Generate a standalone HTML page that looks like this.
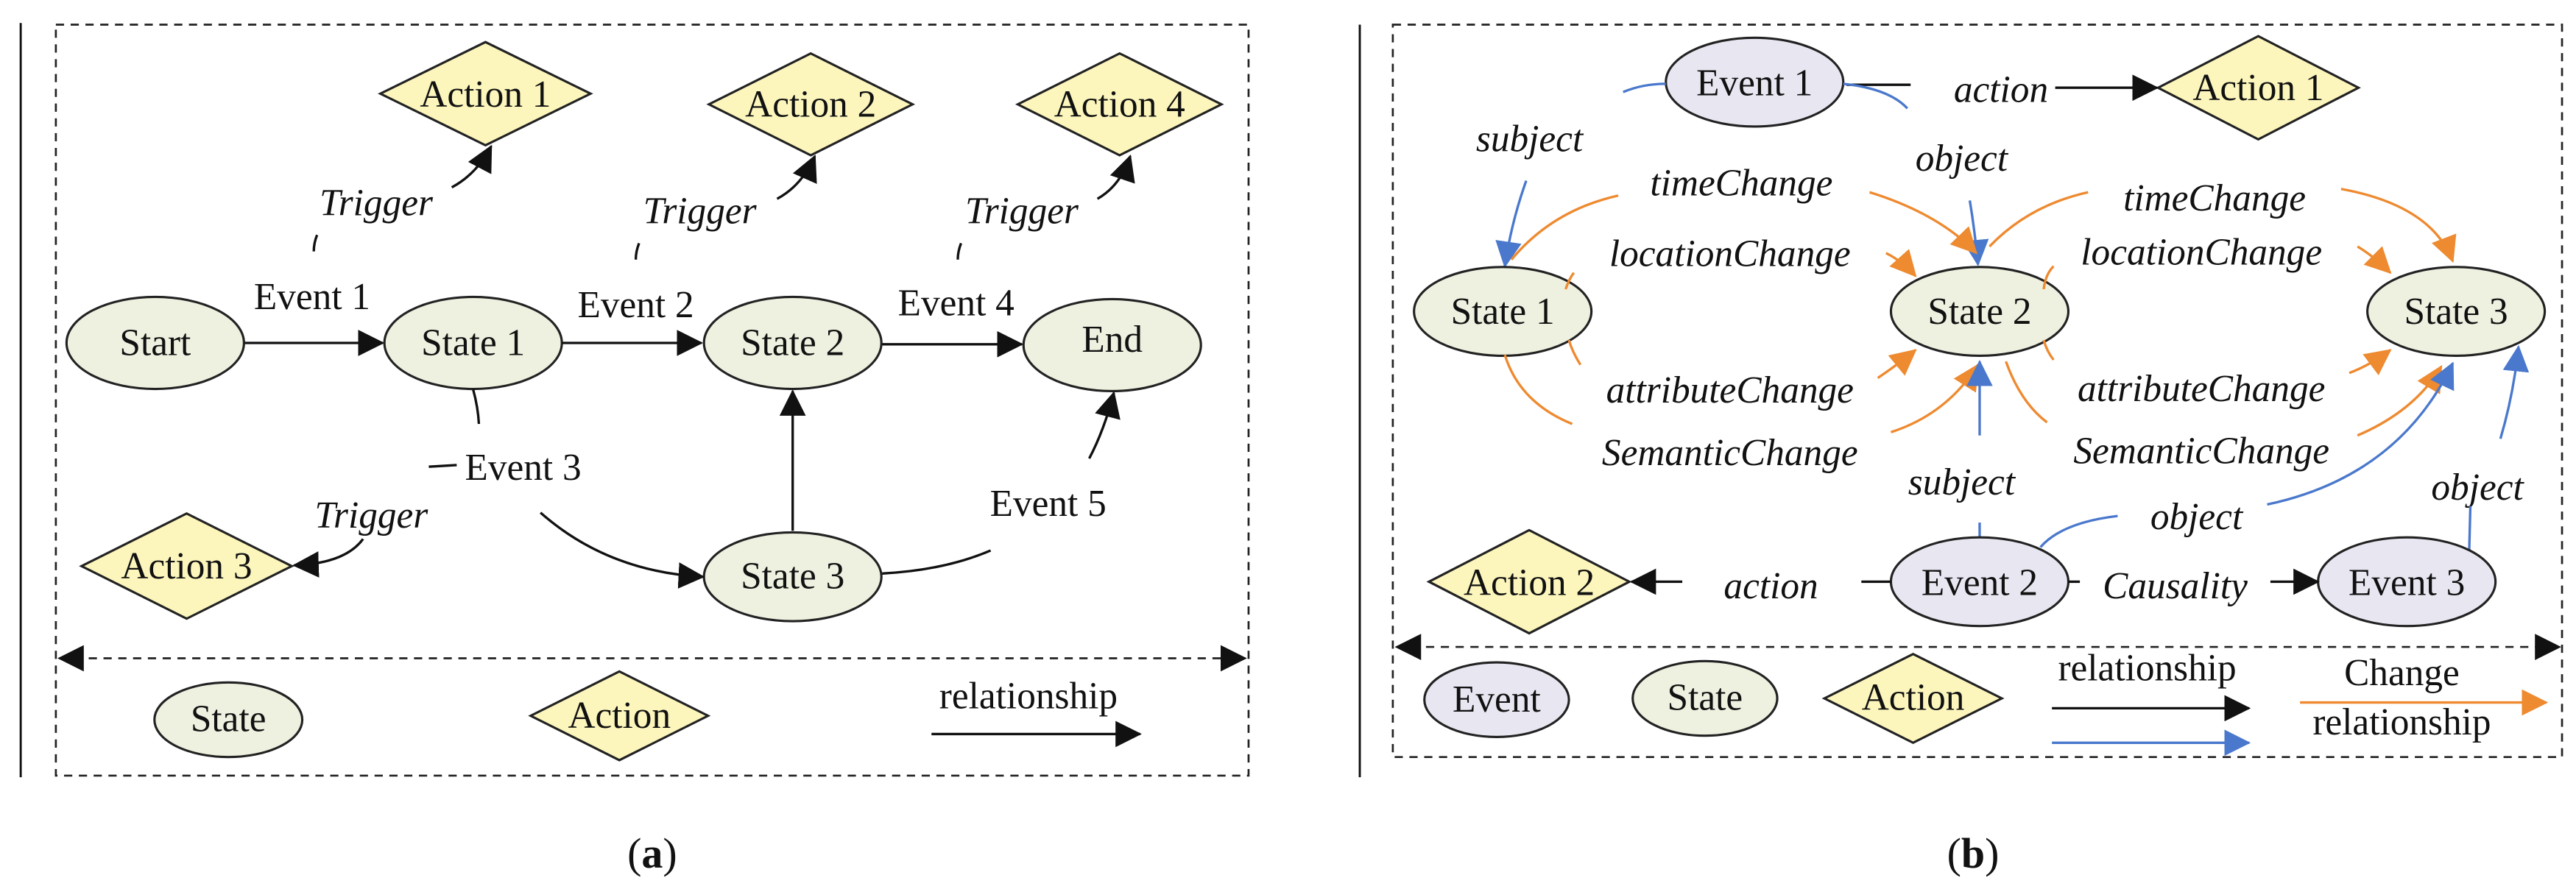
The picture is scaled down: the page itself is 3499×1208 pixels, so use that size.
<!DOCTYPE html>
<html><head><meta charset="utf-8"><style>
html,body{margin:0;padding:0;background:#fff;}
svg{display:block;}
text{font-family:"Liberation Serif",serif;font-size:23px;fill:#111;}
.i{font-style:italic;}
.c{text-anchor:middle;}
.st{fill:#eef1e0;stroke:#222;stroke-width:1.4;}
.ev{fill:#e8e6f1;stroke:#222;stroke-width:1.4;}
.ac{fill:#fcf6bd;stroke:#222;stroke-width:1.4;}
.k{fill:none;stroke:#111;stroke-width:1.5;}
.o{fill:none;stroke:#ee8a30;stroke-width:1.5;}
.b{fill:none;stroke:#4a78cc;stroke-width:1.5;}
.d{fill:none;stroke:#222;stroke-width:1.2;stroke-dasharray:5,4;}
</style></head><body>
<svg width="3499" height="1208" viewBox="0 0 1568 541" preserveAspectRatio="none">
<defs>
<marker id="mk" markerUnits="userSpaceOnUse" markerWidth="16" markerHeight="16" refX="15" refY="8" orient="auto-start-reverse"><path d="M0,0 L16,8 L0,16 Z" fill="#111"/></marker>
<marker id="mo" markerUnits="userSpaceOnUse" markerWidth="16" markerHeight="16" refX="15" refY="8" orient="auto"><path d="M0,0 L16,8 L0,16 Z" fill="#ee8a30"/></marker>
<marker id="mb" markerUnits="userSpaceOnUse" markerWidth="16" markerHeight="16" refX="15" refY="8" orient="auto"><path d="M0,0 L16,8 L0,16 Z" fill="#4a78cc"/></marker>
</defs>

<!-- ===== Panel a ===== -->
<line x1="12.6" y1="14" x2="12.6" y2="473" stroke="#111" stroke-width="1.3"/>
<rect x="34" y="15" width="726" height="457" class="d"/>
<line x1="36" y1="400.6" x2="758" y2="400.6" class="d" marker-start="url(#mk)" marker-end="url(#mk)"/>

<polygon class="ac" points="231.5,57 295.5,25.6 359.5,57 295.5,88.4"/>
<text class="c" x="295.5" y="65">Action 1</text>
<polygon class="ac" points="431.5,63.5 493.5,32.5 555.5,63.5 493.5,94.5"/>
<text class="c" x="493.5" y="71">Action 2</text>
<polygon class="ac" points="619.5,63.5 681.5,32.5 743.5,63.5 681.5,94.5"/>
<text class="c" x="681.5" y="71">Action 4</text>

<text class="i c" x="229" y="131">Trigger</text>
<text class="i c" x="426" y="136">Trigger</text>
<text class="i c" x="622" y="136">Trigger</text>
<path class="k" d="M275,114 Q290,106 299,89" marker-end="url(#mk)"/>
<path class="k" d="M473,121 Q488,113 496,95" marker-end="url(#mk)"/>
<path class="k" d="M668,121 Q682,113 688,95" marker-end="url(#mk)"/>
<path class="k" d="M193,143 Q191,148 191,153"/>
<path class="k" d="M389,148 Q387,153 387,158"/>
<path class="k" d="M585,148 Q583,153 583,158"/>

<ellipse class="st" cx="94.5" cy="208.7" rx="54" ry="28"/>
<text class="c" x="94.5" y="216">Start</text>
<ellipse class="st" cx="288" cy="208.7" rx="54" ry="28"/>
<text class="c" x="288" y="216">State 1</text>
<ellipse class="st" cx="482.5" cy="208.7" rx="54" ry="28"/>
<text class="c" x="482.5" y="216">State 2</text>
<ellipse class="st" cx="677" cy="210" rx="54" ry="28"/>
<text class="c" x="677" y="214">End</text>
<ellipse class="st" cx="482.5" cy="351" rx="54" ry="27"/>
<text class="c" x="482.5" y="358">State 3</text>

<line class="k" x1="149" y1="208.7" x2="233" y2="208.7" marker-end="url(#mk)"/>
<line class="k" x1="342" y1="208.7" x2="427" y2="208.7" marker-end="url(#mk)"/>
<line class="k" x1="537" y1="209.5" x2="622" y2="209.5" marker-end="url(#mk)"/>
<text class="c" x="190" y="188">Event 1</text>
<text class="c" x="387" y="193">Event 2</text>
<text class="c" x="582" y="192">Event 4</text>
<line class="k" x1="482.5" y1="323" x2="482.5" y2="238" marker-end="url(#mk)"/>

<path class="k" d="M288,237 Q291,248 291.5,258"/>
<line class="k" x1="261" y1="284" x2="278" y2="283"/>
<text x="283" y="292">Event 3</text>
<path class="k" d="M329,312 Q370,348 428,351" marker-end="url(#mk)"/>

<polygon class="ac" points="49.6,344.5 113.6,312.5 177.6,344.5 113.6,376.5"/>
<text class="c" x="113.6" y="352">Action 3</text>
<text class="i c" x="226" y="321">Trigger</text>
<path class="k" d="M221,328 Q210,343 179,344" marker-end="url(#mk)"/>

<text class="c" x="638" y="314">Event 5</text>
<path class="k" d="M537,349 Q575,347 603,335"/>
<path class="k" d="M663,279 Q672,262 678,239" marker-end="url(#mk)"/>

<ellipse class="st" cx="139" cy="438" rx="45" ry="22.7"/>
<text class="c" x="139" y="445">State</text>
<polygon class="ac" points="323,435.6 377,408.6 431,435.6 377,462.6"/>
<text class="c" x="377" y="443">Action</text>
<text class="c" x="626" y="431">relationship</text>
<line class="k" x1="567" y1="446.7" x2="694" y2="446.7" marker-end="url(#mk)"/>

<text class="c" x="397" y="528" style="font-size:26px">(<tspan font-weight="bold">a</tspan>)</text>

<!-- ===== Panel b ===== -->
<line x1="827.7" y1="15" x2="827.7" y2="473" stroke="#111" stroke-width="1.3"/>
<rect x="847.8" y="15" width="711.7" height="445.7" class="d"/>
<line x1="850" y1="393.7" x2="1558" y2="393.7" class="d" marker-start="url(#mk)" marker-end="url(#mk)"/>

<ellipse class="ev" cx="1068" cy="50" rx="54" ry="27"/>
<text class="c" x="1068" y="58">Event 1</text>
<polygon class="ac" points="1313.6,53.4 1374.6,22 1435.6,53.4 1374.6,84.8"/>
<text class="c" x="1374.6" y="61">Action 1</text>
<line class="k" x1="1124" y1="51.6" x2="1163" y2="51.6"/>
<text class="i c" x="1218" y="62">action</text>
<line class="k" x1="1251" y1="53.4" x2="1313" y2="53.4" marker-end="url(#mk)"/>
<path class="b" d="M988,56 Q1000,51 1014,51"/>
<path class="b" d="M1122,51 Q1150,54 1161,66"/>

<text class="i c" x="931" y="92">subject</text>
<path class="b" d="M929,110 Q920,135 916,162" marker-end="url(#mb)"/>
<text class="i c" x="1194" y="104">object</text>
<path class="b" d="M1199,122 Q1202,140 1204,161" marker-end="url(#mb)"/>

<ellipse class="st" cx="914.7" cy="189.5" rx="54" ry="27"/>
<text class="c" x="914.7" y="197">State 1</text>
<ellipse class="st" cx="1205" cy="189.5" rx="54" ry="27"/>
<text class="c" x="1205" y="197">State 2</text>
<ellipse class="st" cx="1495" cy="189.5" rx="54" ry="27"/>
<text class="c" x="1495" y="197">State 3</text>

<text class="i c" x="1060" y="119">timeChange</text>
<text class="i c" x="1053" y="162">locationChange</text>
<text class="i c" x="1053" y="245">attributeChange</text>
<text class="i c" x="1053" y="283">SemanticChange</text>
<text class="i c" x="1348" y="128">timeChange</text>
<text class="i c" x="1340" y="161">locationChange</text>
<text class="i c" x="1340" y="244">attributeChange</text>
<text class="i c" x="1340" y="282">SemanticChange</text>

<path class="o" d="M920,158 Q945,128 985,119"/>
<path class="o" d="M1138,117 Q1180,130 1203,154" marker-end="url(#mo)"/>
<path class="o" d="M953,176 Q955,170 958,166"/>
<path class="o" d="M1148,154 Q1158,159 1166,168" marker-end="url(#mo)"/>
<path class="o" d="M955,207 Q957,214 962,222"/>
<path class="o" d="M1143,230 Q1155,222 1166,213" marker-end="url(#mo)"/>
<path class="o" d="M916,216 Q925,245 957,258"/>
<path class="o" d="M1151,263 Q1185,252 1204,222" marker-end="url(#mo)"/>
<path class="o" d="M1211,150 Q1235,125 1271,117"/>
<path class="o" d="M1425,115 Q1480,125 1493,159" marker-end="url(#mo)"/>
<path class="o" d="M1244,176 Q1245,167 1250,162"/>
<path class="o" d="M1435,150 Q1445,156 1455,166" marker-end="url(#mo)"/>
<path class="o" d="M1244,207 Q1246,214 1250,219"/>
<path class="o" d="M1430,227 Q1443,222 1455,213" marker-end="url(#mo)"/>
<path class="o" d="M1221,220 Q1230,245 1246,257"/>
<path class="o" d="M1435,265 Q1470,250 1486,223" marker-end="url(#mo)"/>

<line class="b" x1="1205" y1="265" x2="1205" y2="220" marker-end="url(#mb)"/>
<text class="i c" x="1194" y="301">subject</text>
<line class="b" x1="1205" y1="318" x2="1205" y2="328"/>
<text class="i c" x="1337" y="322">object</text>
<path class="b" d="M1242,333 Q1255,318 1289,314"/>
<path class="b" d="M1380,307 Q1460,290 1493,221" marker-end="url(#mb)"/>
<text class="i c" x="1508" y="304">object</text>
<line class="b" x1="1503" y1="335" x2="1503.7" y2="308"/>
<path class="b" d="M1522,267 Q1530,240 1533,211" marker-end="url(#mb)"/>

<ellipse class="ev" cx="1205" cy="354" rx="54" ry="27"/>
<text class="c" x="1205" y="362">Event 2</text>
<ellipse class="ev" cx="1465" cy="354" rx="54" ry="27"/>
<text class="c" x="1465" y="362">Event 3</text>
<polygon class="ac" points="869.8,354 930.8,322.6 991.8,354 930.8,385.4"/>
<text class="c" x="930.8" y="362">Action 2</text>
<line class="k" x1="1133" y1="354" x2="1151" y2="354"/>
<text class="i c" x="1078" y="364">action</text>
<line class="k" x1="1024" y1="354" x2="993" y2="354" marker-end="url(#mk)"/>
<line class="k" x1="1259" y1="354" x2="1266" y2="354"/>
<text class="i c" x="1324" y="364">Causality</text>
<line class="k" x1="1382" y1="354" x2="1411" y2="354" marker-end="url(#mk)"/>

<ellipse class="ev" cx="911" cy="425.8" rx="44" ry="22.7"/>
<text class="c" x="911" y="433">Event</text>
<ellipse class="st" cx="1037.8" cy="425" rx="44" ry="22.7"/>
<text class="c" x="1037.8" y="432">State</text>
<polygon class="ac" points="1110.5,425 1164.5,398 1218.5,425 1164.5,452"/>
<text class="c" x="1164.5" y="432">Action</text>
<text class="c" x="1307" y="414">relationship</text>
<line class="k" x1="1249" y1="431" x2="1369" y2="431" marker-end="url(#mk)"/>
<line class="b" x1="1249" y1="452" x2="1369" y2="452" marker-end="url(#mb)"/>
<text class="c" x="1462" y="417">Change</text>
<text class="c" x="1462" y="447">relationship</text>
<line class="o" x1="1400" y1="427.5" x2="1550" y2="427.5" marker-end="url(#mo)"/>

<text class="c" x="1201" y="528" style="font-size:26px">(<tspan font-weight="bold">b</tspan>)</text>
</svg>
</body></html>
